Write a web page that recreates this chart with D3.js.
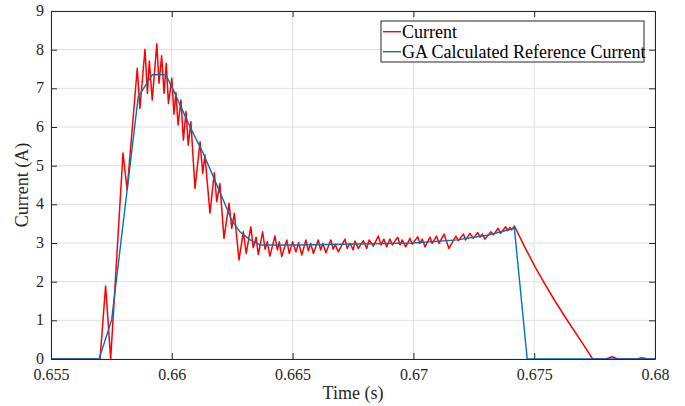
<!DOCTYPE html>
<html>
<head>
<meta charset="utf-8">
<script src="https://cdn.jsdelivr.net/npm/d3@7"></script>
<style>
  body { margin: 0; background: #fff; }
  svg { display: block; font-family: "Liberation Serif", "Times New Roman", serif; }
</style>
</head>
<body>
<script>
const width = 685;
const height = 406;
const margin = { top: 11, right: 30, bottom: 47, left: 51 };

// time (s) and current (A)
const currentTime = [
  0.65500, 0.65703, 0.65726, 0.65747, 0.65798, 0.65815, 0.65857, 0.65868, 0.65889, 0.65899,
  0.65907, 0.65919, 0.65938, 0.65947, 0.65958, 0.65968, 0.65977, 0.65986, 0.66000, 0.66009,
  0.66017, 0.66026, 0.66038, 0.66048, 0.66059, 0.66068, 0.66079, 0.66096, 0.66117, 0.66128,
  0.66137, 0.66158, 0.66176, 0.66186, 0.66199, 0.66216, 0.66237, 0.66248, 0.66259, 0.66278,
  0.66296, 0.66308, 0.66327, 0.66337, 0.66349, 0.66358, 0.66376, 0.66386, 0.66395, 0.66406,
  0.66427, 0.66437, 0.66445, 0.66455, 0.66476, 0.66486, 0.66500, 0.66514, 0.66525, 0.66538,
  0.66555, 0.66565, 0.66575, 0.66586, 0.66606, 0.66616, 0.66625, 0.66638, 0.66658, 0.66668,
  0.66676, 0.66689, 0.66717, 0.66726, 0.66738, 0.66751, 0.66758, 0.66772, 0.66793, 0.66807,
  0.66817, 0.66834, 0.66855, 0.66866, 0.66878, 0.66889, 0.66903, 0.66913, 0.66935, 0.66945,
  0.66954, 0.66968, 0.66986, 0.66995, 0.67018, 0.67027, 0.67037, 0.67048, 0.67069, 0.67078,
  0.67096, 0.67106, 0.67127, 0.67147, 0.67176, 0.67186, 0.67207, 0.67216, 0.67234, 0.67248,
  0.67266, 0.67276, 0.67285, 0.67296, 0.67321, 0.67331, 0.67351, 0.67361, 0.67382, 0.67390,
  0.67400, 0.67407, 0.67418, 0.67462, 0.67503, 0.67545, 0.67586, 0.67640, 0.67690, 0.67742,
  0.67797, 0.67822, 0.67847, 0.67921, 0.67946, 0.67971, 0.68000
];
const currentValue = [
  0, 0, 1.89, 0, 5.33, 4.37, 7.52, 6.48, 8.01, 6.87,
  7.71, 6.70, 8.15, 7.13, 7.84, 6.87, 7.65, 6.61, 7.26, 6.33,
  6.89, 6.05, 6.70, 5.66, 6.40, 5.53, 6.14, 4.41, 5.62, 4.80,
  5.28, 3.77, 4.82, 4.07, 4.54, 3.12, 4.03, 3.38, 3.77, 2.56,
  3.29, 2.73, 3.42, 2.88, 3.15, 2.70, 3.29, 2.84, 3.03, 2.66,
  3.18, 2.82, 3.03, 2.65, 3.08, 2.73, 3.03, 2.77, 3.01, 2.69,
  3.08, 2.80, 2.99, 2.73, 3.08, 2.82, 2.99, 2.75, 3.08, 2.84,
  2.97, 2.77, 3.10, 2.86, 2.99, 2.82, 3.05, 2.86, 3.06, 2.86,
  3.08, 2.92, 3.18, 2.95, 3.10, 2.90, 3.10, 2.95, 3.15, 2.95,
  3.08, 2.90, 3.12, 2.97, 3.16, 2.99, 3.10, 2.90, 3.15, 2.99,
  3.18, 2.99, 3.23, 2.86, 3.18, 3.06, 3.23, 3.08, 3.25, 3.12,
  3.27, 3.15, 3.23, 3.10, 3.29, 3.21, 3.38, 3.25, 3.42, 3.32,
  3.40, 3.34, 3.44, 2.88, 2.39, 1.93, 1.50, 0.97, 0.50, 0,
  0, 0.06, 0, 0, 0.03, 0, 0
];

const refTime = [
  0.65500, 0.65699, 0.65751, 0.65861, 0.65919, 0.65975, 0.66006, 0.66075, 0.66130, 0.66172,
  0.66213, 0.66248, 0.66282, 0.66324, 0.66365, 0.66531, 0.66998, 0.67181, 0.67305, 0.67418,
  0.67471, 0.68000
];
const refValue = [
  0, 0, 1.01, 6.78, 7.35, 7.35, 6.96, 6.01, 5.32, 4.71,
  4.11, 3.59, 3.29, 3.08, 2.95, 2.95, 3.00, 3.08, 3.20, 3.38,
  0, 0
];

const xTicks = [0.655, 0.66, 0.665, 0.67, 0.675, 0.68];
const yTicks = [0, 1, 2, 3, 4, 5, 6, 7, 8, 9];
const seriesNames = ['Current', 'GA Calculated Reference Current'];
const seriesColors = ['#ff0000', '#0072bd'];

const x = d3.scaleLinear().domain([0.655, 0.68]).range([margin.left, width - margin.right]);
const y = d3.scaleLinear().domain([0, 9]).range([height - margin.bottom, margin.top]);

const svg = d3.select('body').append('svg')
  .attr('width', width)
  .attr('height', height);

const axisColor = '#262626';
const tickFont = 16;
const labelFont = 18;

// grid
svg.append('g')
  .selectAll('line')
  .data(xTicks)
  .join('line')
  .attr('x1', (d) => x(d)).attr('x2', (d) => x(d))
  .attr('y1', y(0)).attr('y2', y(9))
  .attr('stroke', '#dfdfdf').attr('stroke-width', 1);
svg.append('g')
  .selectAll('line')
  .data(yTicks)
  .join('line')
  .attr('y1', (d) => y(d)).attr('y2', (d) => y(d))
  .attr('x1', x(0.655)).attr('x2', x(0.68))
  .attr('stroke', '#dfdfdf').attr('stroke-width', 1);

svg.append('clipPath').attr('id', 'clip')
  .append('rect')
  .attr('x', margin.left).attr('y', margin.top - 1)
  .attr('width', width - margin.left - margin.right)
  .attr('height', height - margin.top - margin.bottom + 1);

const line = d3.line().x((d) => x(d[0])).y((d) => y(d[1]));

const current = currentTime.map((t, i) => [t, currentValue[i]]);
const reference = refTime.map((t, i) => [t, refValue[i]]);

const plot = svg.append('g').attr('clip-path', 'url(#clip)');
plot.append('path')
  .datum(current)
  .attr('d', line)
  .attr('fill', 'none')
  .attr('stroke', seriesColors[0])
  .attr('stroke-width', 1.5)
  .attr('stroke-linejoin', 'round');
plot.append('path')
  .datum(reference)
  .attr('d', line)
  .attr('fill', 'none')
  .attr('stroke', seriesColors[1])
  .attr('stroke-width', 1.4)
  .attr('stroke-linejoin', 'round');

// axes, ticks inward on all four sides
const fmtX = (d) => String(+d.toFixed(3));
const tickStyle = (g) => {
  g.select('.domain').attr('stroke', axisColor);
  g.selectAll('.tick line').attr('stroke', axisColor);
  g.selectAll('.tick text')
    .attr('fill', axisColor)
    .attr('font-size', tickFont)
    .attr('font-family', '"Liberation Serif", serif');
};

svg.append('g')
  .attr('transform', `translate(0,${y(0)})`)
  .call(d3.axisBottom(x).tickValues(xTicks).tickFormat(fmtX).tickSizeInner(-6).tickSizeOuter(0).tickPadding(10))
  .call(tickStyle);
svg.append('g')
  .attr('transform', `translate(0,${y(9)})`)
  .call(d3.axisTop(x).tickValues(xTicks).tickFormat('').tickSizeInner(-6).tickSizeOuter(0))
  .call(tickStyle);
svg.append('g')
  .attr('transform', `translate(${x(0.655)},0)`)
  .call(d3.axisLeft(y).tickValues(yTicks).tickFormat(d3.format('d')).tickSizeInner(-6).tickSizeOuter(0).tickPadding(7))
  .call(tickStyle)
  .call((g) => g.selectAll('.tick text').attr('dy', '0.28em'));
svg.append('g')
  .attr('transform', `translate(${x(0.68)},0)`)
  .call(d3.axisRight(y).tickValues(yTicks).tickFormat('').tickSizeInner(-6).tickSizeOuter(0))
  .call(tickStyle);

// axis labels
svg.append('text')
  .attr('x', (x(0.655) + x(0.68)) / 2)
  .attr('y', 399)
  .attr('text-anchor', 'middle')
  .attr('font-size', labelFont)
  .attr('fill', axisColor)
  .text('Time (s)');
svg.append('text')
  .attr('transform', `translate(28,${(y(0) + y(9)) / 2}) rotate(-90)`)
  .attr('text-anchor', 'middle')
  .attr('font-size', labelFont)
  .attr('fill', axisColor)
  .text('Current (A)');

// legend
const legend = svg.append('g').attr('transform', 'translate(381,21)');
legend.append('rect')
  .attr('width', 263).attr('height', 41)
  .attr('fill', '#fff')
  .attr('stroke', axisColor)
  .attr('stroke-width', 1);
seriesNames.forEach((name, i) => {
  const cy = 10.7 + i * 20;
  legend.append('line')
    .attr('x1', 2).attr('x2', 20)
    .attr('y1', cy).attr('y2', cy)
    .attr('stroke', seriesColors[i])
    .attr('stroke-width', 1.4);
  legend.append('text')
    .attr('x', 21)
    .attr('y', cy + 6)
    .attr('font-size', labelFont)
    .attr('fill', '#000')
    .text(name);
});
</script>
</body>
</html>
